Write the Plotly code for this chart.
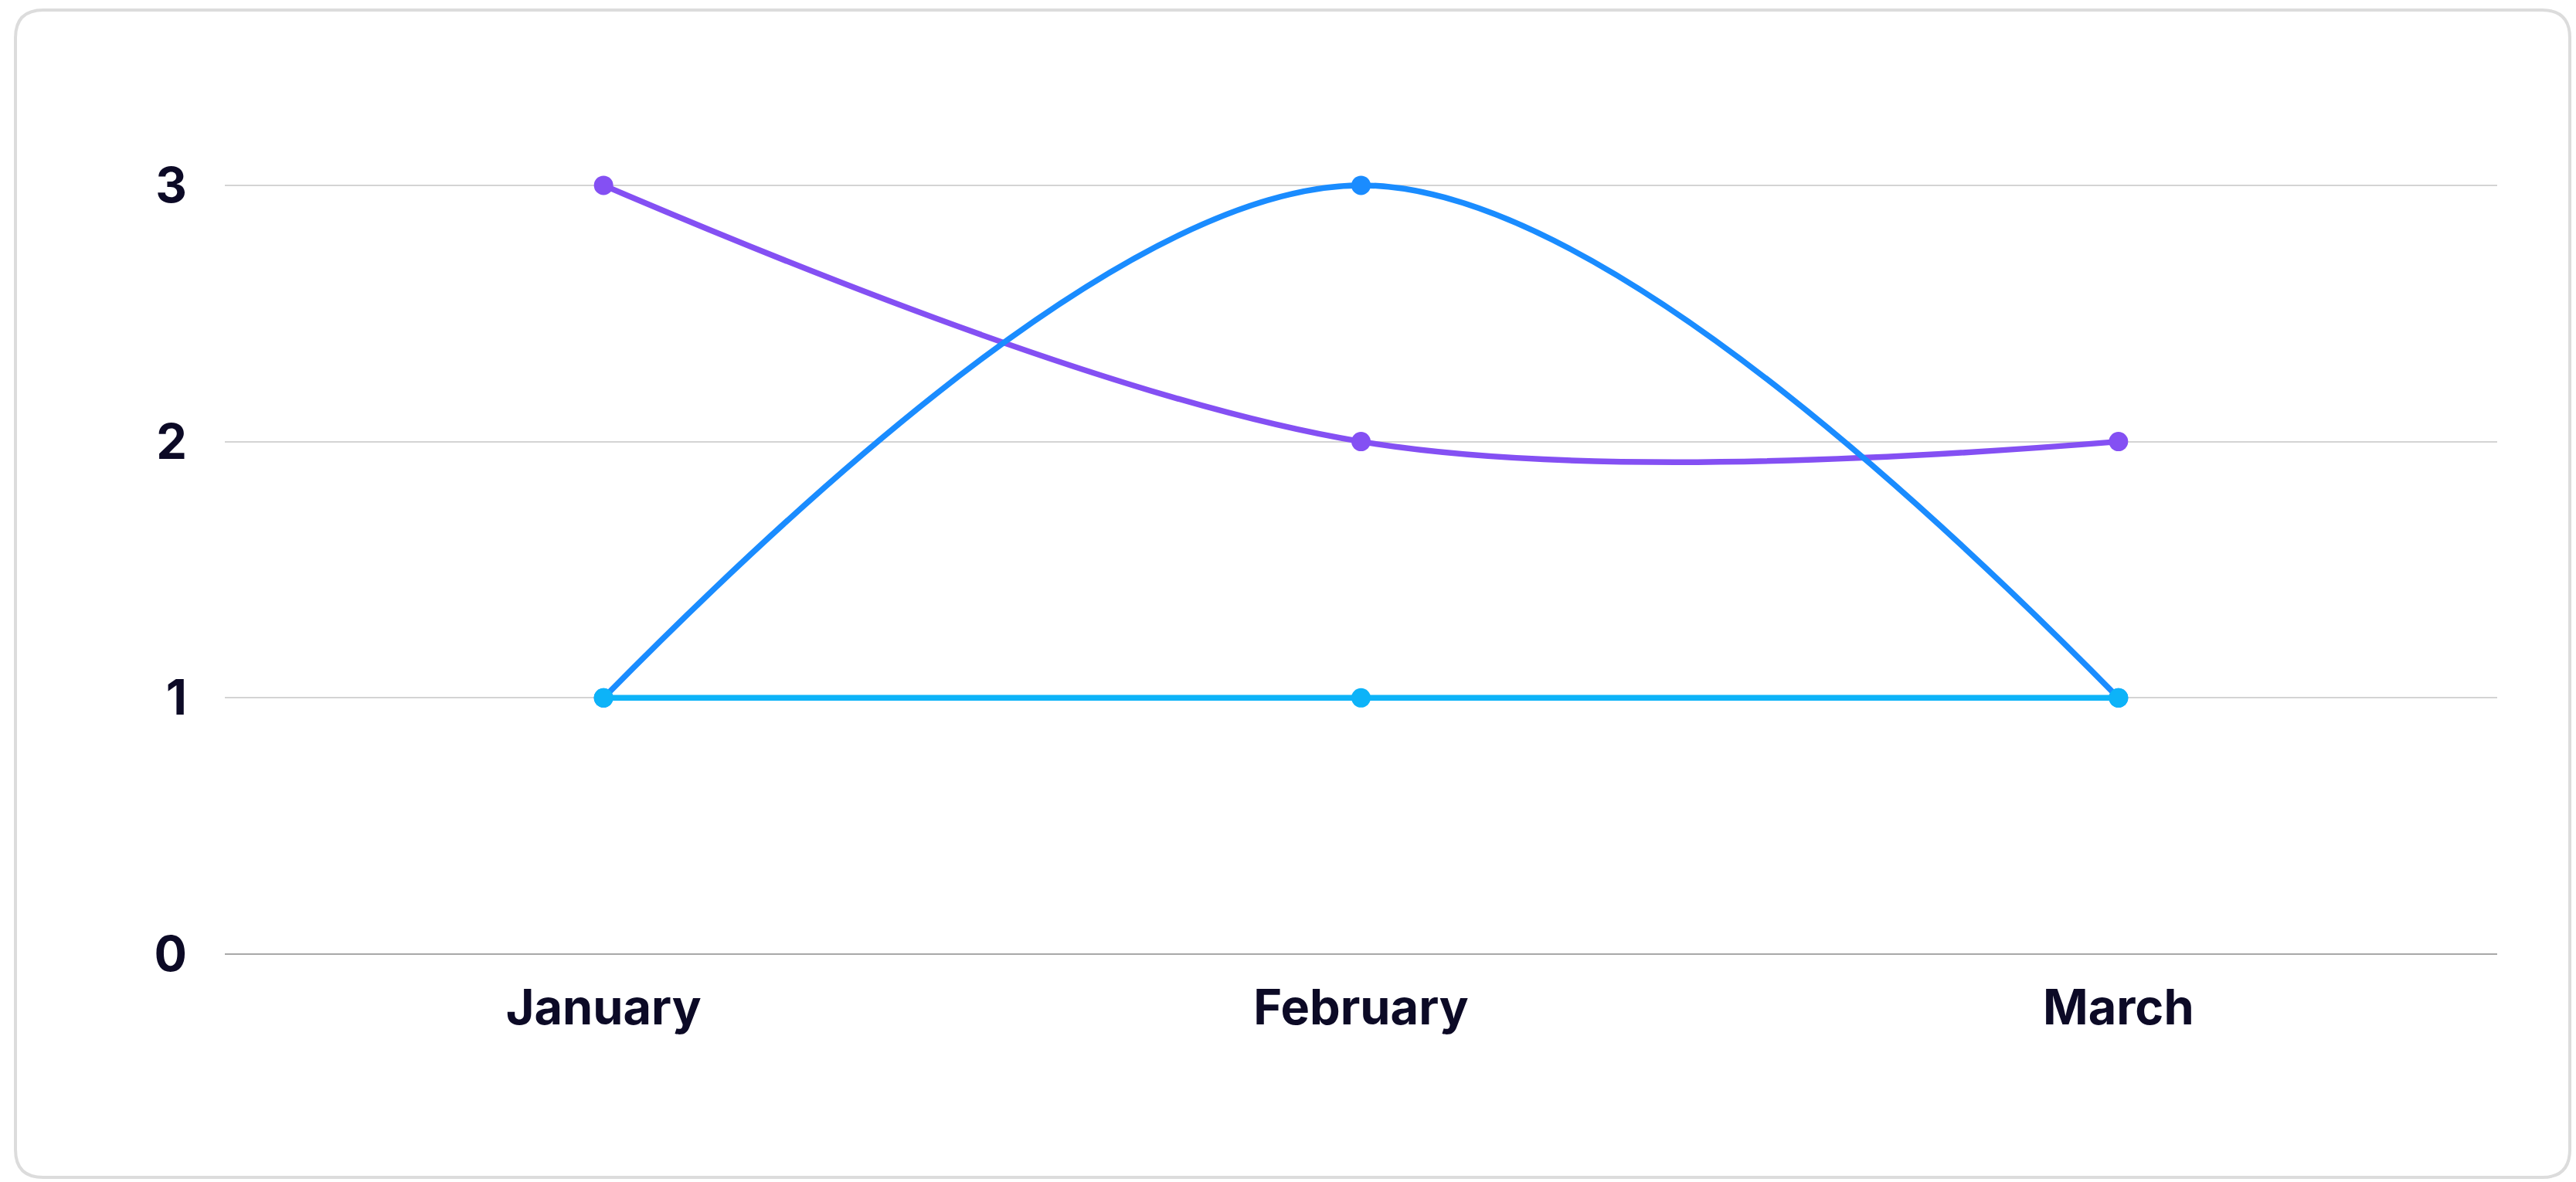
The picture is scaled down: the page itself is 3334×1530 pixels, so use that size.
import plotly.graph_objects as go

months = ["January", "February", "March"]
series_purple = [3, 2, 2]
series_blue = [1, 3, 1]
series_light = [1, 1, 1]
y_ticks = [0, 1, 2, 3]

W, H = 3334, 1530
ML, MR, MT, MB = 291, 102, 157, 295
PW, PH = W - ML - MR, H - MT - MB


def px(x):
    return (x - ML) / PW


def py(y):
    return (H - MB - y) / PH


# rounded card border path in paper coords
L, R, T, B, RAD = 20, 3326, 13, 1524, 36
path = (
    f"M {px(L + RAD)} {py(T)} L {px(R - RAD)} {py(T)} "
    f"Q {px(R)} {py(T)} {px(R)} {py(T + RAD)} "
    f"L {px(R)} {py(B - RAD)} Q {px(R)} {py(B)} {px(R - RAD)} {py(B)} "
    f"L {px(L + RAD)} {py(B)} Q {px(L)} {py(B)} {px(L)} {py(B - RAD)} "
    f"L {px(L)} {py(T + RAD)} Q {px(L)} {py(T)} {px(L + RAD)} {py(T)} Z"
)

fig = go.Figure()
fig.add_trace(go.Scatter(
    x=months, y=series_purple, mode="lines+markers",
    line=dict(color="#8450f3", width=7.5, shape="spline", smoothing=1),
    marker=dict(size=25, color="#8450f3"), cliponaxis=False,
))
fig.add_trace(go.Scatter(
    x=months, y=series_blue, mode="lines+markers",
    line=dict(color="#1a8cff", width=7.5, shape="spline", smoothing=1),
    marker=dict(size=25, color="#1a8cff"), cliponaxis=False,
))
fig.add_trace(go.Scatter(
    x=months, y=series_light, mode="lines+markers",
    line=dict(color="#0db3f8", width=7.5, shape="spline", smoothing=1),
    marker=dict(size=25, color="#0db3f8"), cliponaxis=False,
))

tick_font = dict(family="Inter, Poppins, sans-serif", size=63, color="#0c0a26", weight="bold")

fig.update_layout(
    width=W, height=H,
    margin=dict(l=ML, r=MR, t=MT, b=MB),
    paper_bgcolor="white", plot_bgcolor="white",
    showlegend=False,
    xaxis=dict(
        type="category", range=[-0.5, 2.5], showgrid=False, zeroline=False,
        showline=False, ticks="", tickfont=tick_font, ticklabelstandoff=27,
    ),
    yaxis=dict(
        range=[0, 3.25], tickvals=y_ticks, showgrid=True, gridcolor="#d4d4d4",
        gridwidth=2, zeroline=True, zerolinecolor="#a8a8a8", zerolinewidth=2,
        showline=False, ticks="", tickfont=tick_font, ticklabelstandoff=48,
    ),
    shapes=[dict(type="path", xref="paper", yref="paper", path=path,
                 line=dict(color="#dcdcdc", width=4), fillcolor="rgba(0,0,0,0)",
                 layer="below")],
)

fig.write_html("out.html")
